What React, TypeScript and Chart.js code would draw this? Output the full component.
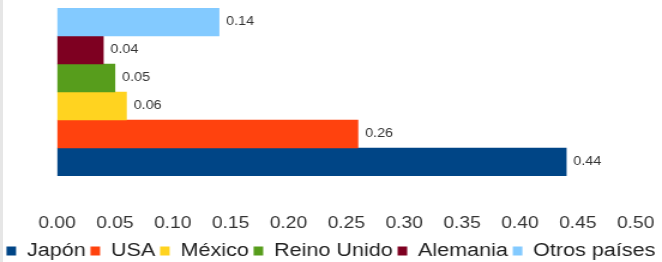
import React, { useEffect, useRef } from "react";
import { Chart, registerables } from "chart.js";

Chart.register(...registerables);

const categories = [""];
const seriesNames = ["Japón", "USA", "México", "Reino Unido", "Alemania", "Otros países"];
const seriesValues = [0.44, 0.26, 0.06, 0.05, 0.04, 0.14];
const seriesColors = ["#004586", "#ff420e", "#ffd320", "#579d1c", "#7e0021", "#83caff"];
const xMin = 0;
const xMax = 0.5;
const xStep = 0.05;

const FONT = '"Liberation Sans", Arial, sans-serif';

// Canvas is drawn at a narrower internal width and stretched horizontally, like the reference.
const INTERNAL_W = 552;
const H = 262;

const valueLabels = {
  id: "valueLabels",
  afterDatasetsDraw(chart: any) {
    const ctx = chart.ctx;
    ctx.save();
    ctx.font = `12px ${FONT}`;
    ctx.fillStyle = "#333333";
    ctx.textBaseline = "middle";
    ctx.textAlign = "left";
    chart.data.datasets.forEach((ds: any, i: number) => {
      const meta = chart.getDatasetMeta(i);
      meta.data.forEach((el: any, j: number) => {
        const v = ds.data[j];
        ctx.fillText(Number(v).toFixed(2), el.x + 6, el.y);
      });
    });
    ctx.restore();
  },
};

export default function App() {
  const ref = useRef<HTMLCanvasElement | null>(null);

  useEffect(() => {
    if (!ref.current) return;
    // datasets listed top-to-bottom; legend reversed so Japón comes first
    const order = seriesNames.map((_, i) => i).reverse();
    const chart = new Chart(ref.current, {
      type: "bar",
      data: {
        labels: categories,
        datasets: order.map((i) => ({
          label: seriesNames[i],
          data: [seriesValues[i]],
          backgroundColor: seriesColors[i],
          borderWidth: 0,
          categoryPercentage: 1,
          barPercentage: 1,
        })),
      },
      options: {
        indexAxis: "y",
        responsive: false,
        animation: false,
        events: [],
        layout: { padding: { top: 8, bottom: -8, left: 0, right: 0 } },
        plugins: {
          legend: {
            position: "bottom",
            reverse: true,
            labels: {
              font: { family: FONT, size: 18 },
              color: "#222222",
              boxWidth: 8,
              boxHeight: 9,
              padding: 4,
            },
          },
          tooltip: { enabled: false },
          title: { display: false },
        },
        scales: {
          x: {
            type: "linear",
            min: xMin,
            max: xMax,
            grid: {
              display: true,
              drawOnChartArea: false,
              drawTicks: true,
              tickLength: 38,
              color: "rgba(0,0,0,0)",
            },
            border: { display: false },
            ticks: {
              stepSize: xStep,
              padding: 0,
              color: "#333333",
              font: { family: FONT, size: 16 },
              callback: (v: any) => Number(v).toFixed(2),
            },
            afterFit: (scale: any) => {
              scale.height = 62;
            },
          },
          y: {
            type: "category",
            grid: { display: false, drawTicks: false },
            border: { display: false },
            ticks: { display: false },
            afterFit: (scale: any) => {
              scale.width = 47.5;
            },
          },
          yR: {
            type: "linear",
            position: "right",
            grid: { display: false, drawTicks: false },
            border: { display: false },
            ticks: { display: false },
            afterFit: (scale: any) => {
              scale.width = 22;
            },
          },
        },
      },
      plugins: [valueLabels],
    });
    return () => chart.destroy();
  }, []);

  return (
    <div
      style={{
        position: "absolute",
        left: 0,
        top: 0,
        width: 662,
        height: H,
        overflow: "hidden",
        background: "#ffffff",
      }}
    >
      <div
        style={{
          position: "absolute",
          left: 0,
          top: 0,
          width: 3,
          height: H,
          background: "#e6e6e6",
        }}
      />
      <canvas
        ref={ref}
        width={INTERNAL_W}
        height={H}
        style={{ position: "absolute", left: 0, top: 0, width: "662px", height: `${H}px`, display: "block" }}
      />
    </div>
  );
}
